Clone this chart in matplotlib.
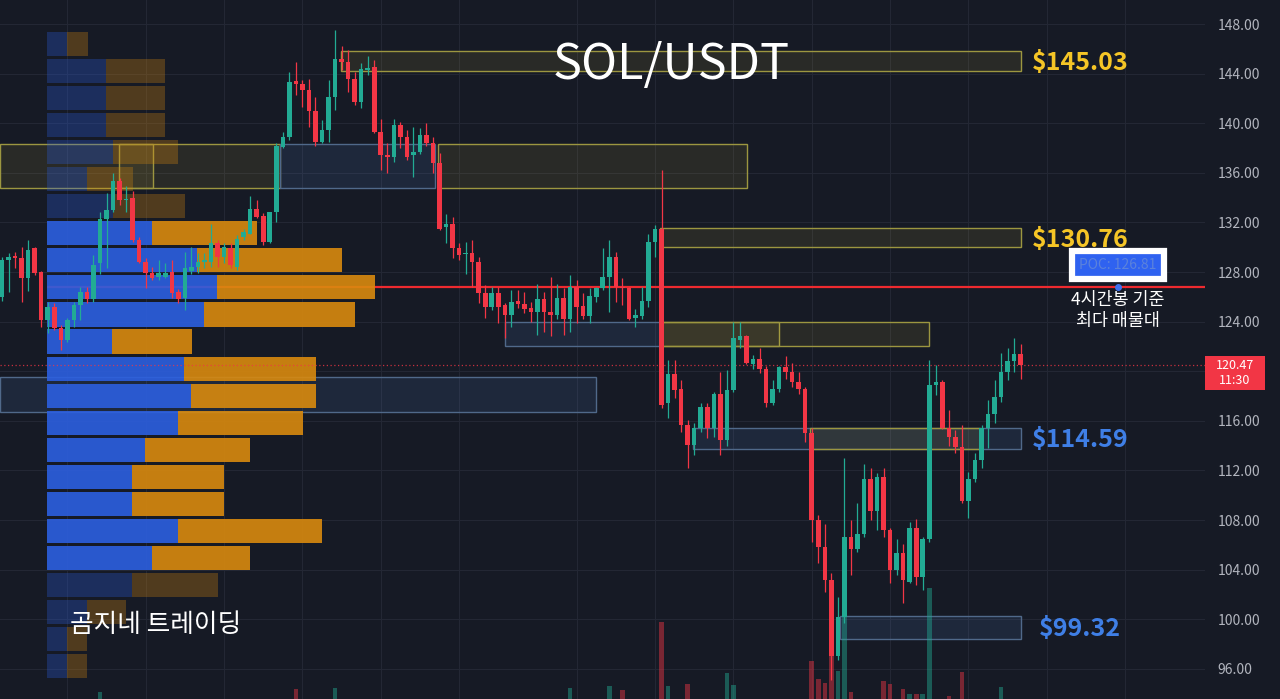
import matplotlib.pyplot as plt
import matplotlib.patches as patches
from matplotlib.transforms import blended_transform_factory
import numpy as np

plt.rcParams['font.family'] = ['Noto Sans CJK KR', 'DejaVu Sans']

BG = '#161a25'
UP = '#22ab94'
DOWN = '#f23645'
GRID = '#232734'

# 4h candles, SOL/USDT
opens = [126.0, 129.0, 129.3, 129.1, 127.5, 129.9, 128.0, 124.1, 125.2, 123.5,
         122.5, 124.1, 125.3, 126.4, 125.8, 128.7, 132.3, 133.0, 135.3, 133.8,
         134.0, 130.6, 128.8, 127.9, 127.6, 127.6, 128.0, 126.4, 125.9, 128.1,
         128.4, 128.8, 128.8, 130.3, 129.2, 129.9, 128.4, 130.85, 131.1, 133.05,
         132.5, 130.45, 132.8, 138.1, 138.9, 143.4, 143.2, 142.7, 141.0, 138.5,
         139.45, 142.1, 145.2, 144.95, 143.6, 141.7, 144.3, 144.55, 139.3, 137.4,
         137.3, 139.85, 138.9, 137.4, 137.7, 139.05, 138.4, 136.8, 131.6, 131.9,
         129.9, 129.45, 129.5, 128.8, 126.3, 125.2, 126.3, 125.3, 124.5, 125.7,
         125.4, 125.1, 124.8, 125.8, 124.8, 124.5, 125.9, 124.2, 126.8, 125.25,
         124.45, 126.0, 126.7, 127.6, 129.2, 126.8, 126.7, 124.3, 124.45, 125.7,
         130.45, 131.45, 117.4, 119.8, 118.6, 115.65, 114.05, 115.4, 117.15, 115.4,
         118.2, 114.45, 118.5, 122.5, 122.8, 120.6, 121.0, 120.2, 117.45, 118.6,
         120.3, 119.95, 119.15, 118.55, 115.0, 108.0, 105.85, 103.2, 97.0, 100.2,
         106.65, 105.7, 106.9, 111.3, 108.7, 111.5, 107.2, 103.95, 105.35, 103.0,
         107.35, 103.4, 106.5, 118.9, 119.1, 115.4, 114.7, 113.85, 109.5, 111.3,
         112.8, 115.4, 116.55, 117.95, 119.9, 120.8, 121.4]
highs = [129.2, 129.5, 129.6, 130.0, 130.6, 130.0, 128.1, 125.6, 125.5, 123.7,
         124.3, 125.6, 126.8, 126.8, 129.4, 132.8, 134.4, 136.0, 135.6, 134.9,
         134.5, 130.8, 129.1, 128.4, 129.0, 128.7, 129.0, 126.6, 129.6, 130.0,
         129.5, 129.5, 131.9, 130.6, 130.3, 130.3, 131.0, 131.5, 134.1, 133.8,
         132.75, 132.8, 138.4, 139.3, 144.15, 144.95, 143.5, 143.6, 142.1, 140.25,
         143.5, 147.5, 146.2, 145.9, 144.15, 144.85, 145.4, 145.1, 140.3, 138.4,
         140.3, 140.1, 139.45, 139.7, 139.6, 140.0, 138.9, 137.6, 132.7, 132.45,
         130.3, 130.45, 130.6, 129.2, 126.95, 126.8, 126.8, 125.5, 126.55, 126.55,
         126.4, 125.6, 127.05, 126.4, 127.6, 127.05, 126.7, 127.75, 127.35, 126.3,
         126.7, 126.8, 129.9, 130.6, 129.65, 127.5, 126.8, 125.05, 126.8, 131.1,
         131.8, 136.2, 120.9, 120.9, 119.3, 116.05, 115.8, 117.4, 117.4, 118.35,
         119.95, 120.1, 124.0, 124.0, 122.9, 121.3, 121.85, 120.4, 119.3, 120.4,
         121.2, 120.65, 119.95, 118.75, 115.4, 108.4, 107.7, 103.7, 101.8, 113.0,
         108.0, 109.35, 112.55, 112.2, 111.8, 112.2, 107.35, 106.45, 106.1, 107.8,
         108.1, 106.65, 120.9, 120.5, 119.3, 116.9, 115.25, 115.65, 111.9, 113.4,
         115.65, 117.7, 119.3, 121.45, 121.85, 122.65, 122.2]
lows = [125.7, 126.4, 128.3, 125.6, 126.5, 127.75, 123.6, 123.1, 123.3, 121.7,
        122.35, 123.55, 124.1, 125.5, 125.6, 127.8, 128.3, 132.8, 133.4, 132.8,
        130.4, 128.7, 126.7, 127.35, 127.35, 127.5, 125.9, 125.5, 124.9, 127.8,
        127.9, 128.3, 128.4, 128.4, 128.7, 128.3, 128.2, 130.6, 131.1, 132.35,
        130.2, 130.3, 132.0, 138.0, 138.65, 142.3, 141.3, 139.7, 138.2, 138.4,
        138.5, 141.1, 144.3, 142.5, 141.5, 141.2, 143.9, 139.2, 136.2, 136.0,
        136.9, 138.0, 137.0, 135.7, 137.55, 138.2, 136.0, 131.4, 130.3, 129.1,
        129.0, 127.8, 126.8, 125.5, 124.3, 124.9, 123.85, 122.7, 123.6, 125.1,
        124.7, 124.0, 122.9, 123.2, 122.8, 124.25, 122.9, 123.2, 123.85, 124.25,
        123.85, 125.6, 126.55, 124.8, 125.6, 125.35, 124.1, 123.6, 124.25, 125.2,
        129.2, 117.0, 116.2, 117.8, 115.1, 112.2, 113.25, 115.1, 114.6, 114.7,
        113.25, 113.95, 118.35, 121.85, 120.6, 120.2, 119.85, 117.1, 117.3, 118.35,
        119.4, 118.75, 118.2, 114.3, 106.25, 104.5, 102.2, 95.1, 96.7, 99.7,
        103.55, 105.45, 106.65, 108.0, 107.2, 106.65, 102.9, 103.55, 101.3, 102.9,
        102.75, 102.35, 106.25, 118.1, 115.3, 114.0, 113.4, 109.35, 108.15, 111.1,
        112.2, 113.8, 115.8, 117.5, 119.3, 119.95, 119.4]
closes = [129.0, 129.2, 129.1, 127.5, 129.8, 127.9, 124.1, 125.2, 123.5, 122.5,
          124.1, 125.3, 126.4, 125.8, 128.6, 132.3, 133.0, 135.3, 133.8, 133.9,
          130.6, 128.8, 127.9, 127.5, 127.9, 127.9, 126.3, 125.8, 128.3, 128.4,
          128.8, 129.0, 130.3, 129.2, 130.0, 128.6, 130.7, 131.25, 133.05, 132.45,
          130.45, 132.8, 138.2, 138.9, 143.35, 143.2, 142.7, 141.0, 138.5, 139.45,
          142.1, 145.2, 144.95, 143.6, 141.7, 144.4, 144.45, 139.3, 137.4, 137.3,
          139.85, 138.9, 137.3, 137.7, 139.05, 138.4, 136.8, 131.5, 131.9, 129.9,
          129.4, 129.55, 128.8, 126.3, 125.2, 126.3, 125.2, 124.5, 125.6, 125.4,
          125.0, 124.8, 125.8, 124.8, 124.5, 125.9, 124.2, 126.8, 125.2, 124.45,
          126.05, 126.7, 127.6, 129.2, 126.8, 126.7, 124.25, 124.5, 125.7, 130.45,
          131.5, 117.3, 119.8, 118.5, 115.65, 114.05, 115.4, 117.15, 115.4, 118.2,
          114.45, 118.5, 122.65, 122.8, 120.7, 121.0, 120.2, 117.45, 118.6, 120.3,
          119.9, 119.15, 118.55, 115.0, 108.0, 105.85, 103.2, 97.0, 100.2, 106.65,
          105.7, 106.9, 111.3, 108.7, 111.5, 107.2, 103.95, 105.35, 103.15, 107.35,
          103.4, 106.5, 118.9, 119.1, 115.4, 114.7, 113.85, 109.5, 111.3, 112.8,
          115.4, 116.55, 117.95, 119.9, 120.8, 121.4, 120.47]

# volume (only the bars that poke up from the bottom edge)
vol_idx = [15, 45, 51, 87, 93, 95, 101, 102, 105, 111, 112, 124, 125, 126, 127,
           128, 129, 130, 135, 136, 138, 139, 140, 141, 142, 145, 147, 153]
vol_val = [7, 10, 11, 11, 13, 9, 77, 13, 15, 26, 14, 38, 20, 16, 44,
           28, 82, 7, 18, 15, 10, 5, 5, 5, 111, 3, 27, 12]

# volume profile rows, top to bottom
vp_up = [20, 59, 59, 59, 66, 40, 66, 105, 150, 170, 157, 65,
         137, 144, 131, 98, 85, 85, 131, 105, 85, 40, 20, 20]
vp_down = [21, 59, 59, 59, 65, 46, 72, 105, 145, 158, 151, 80,
           132, 125, 125, 105, 92, 92, 144, 98, 86, 39, 20, 20]
va_rows = range(7, 20)
poc_price = 126.81

# zones: start bar, end bar, low, high, kind
zones = [
    (51.9, 156.05, 144.23, 145.83, 'y'),
    (-0.3, 42.6, 134.8, 138.3, 'y'),
    (17.9, 23.1, 134.8, 138.3, 'y'),
    (42.6, 66.3, 134.8, 138.3, 'b'),
    (66.8, 114.1, 134.8, 138.3, 'y'),
    (100.8, 156.05, 129.98, 131.54, 'y'),
    (77.0, 100.8, 122.0, 124.0, 'b'),
    (100.8, 119.0, 122.0, 124.0, 'y'),
    (100.8, 142.0, 122.0, 124.0, 'y'),
    (-0.3, 91.0, 116.7, 119.5, 'b'),
    (105.8, 156.05, 113.74, 115.44, 'b'),
    (123.7, 149.8, 113.74, 115.44, 'y'),
    (128.3, 156.05, 98.39, 100.25, 'b'),
]
levels = [('$145.03', 145.03, 'y'), ('$130.76', 130.76, 'y'),
          ('$114.59', 114.59, 'b'), ('$99.32', 99.32, 'b')]

grid_bars = [10, 22, 34, 46, 58, 70, 88, 100, 112, 124, 136, 148, 160, 172]
price_ticks = np.arange(96, 149, 4)

# layout (pixels of the 1280x699 canvas)
PX_BAR = 6.53
X0 = -0.31
XMAX = X0 + 1205 / PX_BAR
PX_PRICE = 12.4
YTOP = 148 + 24 / PX_PRICE
YBOT = 148 - 675 / PX_PRICE

fig = plt.figure(figsize=(12.8, 6.99), dpi=100, facecolor=BG)
ax = fig.add_axes([0, 0, 1205 / 1280, 1])
ax.set_facecolor(BG)
ax.set_xlim(X0, XMAX)
ax.set_ylim(YBOT, YTOP)
for s in ax.spines.values():
    s.set_visible(False)

last = closes[-1]

ax.set_xticks(grid_bars)
ax.set_xticklabels([])
ax.set_yticks(price_ticks)
# the label next to the last price tag is hidden by the tag
ax.set_yticklabels(['' if abs(v - last) < 1.5 else f'{v:.2f}' for v in price_ticks])
ax.yaxis.tick_right()
ax.tick_params(axis='both', length=0)
ax.tick_params(axis='y', pad=9, labelcolor='#b2b5be', labelsize=10)
ax.grid(True, color=GRID, linewidth=0.8, zorder=0)
ax.set_axisbelow(True)

# POC line (under the profile)
vp_left = X0 + 47 / PX_BAR
ax.hlines(poc_price, vp_left, XMAX, color='#ee2a2f', linewidth=1.6, zorder=1)

# zones
for x1, x2, y1, y2, kind in zones:
    if kind == 'y':
        fc, ec, fa = '#f0d040', '#9c9640', 0.09
    else:
        fc, ec, fa = '#5b8bd0', '#50698a', 0.13
    ax.add_patch(patches.Rectangle((x1, y1), x2 - x1, y2 - y1, facecolor=fc,
                                   alpha=fa, linewidth=0, zorder=2))
    ax.add_patch(patches.Rectangle((x1, y1), x2 - x1, y2 - y1, facecolor='none',
                                   edgecolor=ec, linewidth=1, zorder=2))

# volume profile
n_rows = len(vp_up)
lo, hi = min(lows), max(highs)
step = (hi - lo) / n_rows
for r in range(n_rows):
    yc = hi - (r + 0.5) * step
    full = r in va_rows
    a = 0.9 if full else 0.3
    wu = vp_up[r] / PX_BAR
    wd = vp_down[r] / PX_BAR
    ax.barh(yc, wu, left=vp_left, height=step * 0.89, color='#2c5fe0',
            alpha=a, zorder=3, linewidth=0)
    ax.barh(yc, wd, left=vp_left + wu, height=step * 0.89, color='#d98a0e',
            alpha=a, zorder=3, linewidth=0)

# volume bars
vcol = [UP if closes[i] >= opens[i] else DOWN for i in vol_idx]
ax.bar(vol_idx, [v / PX_PRICE for v in vol_val], bottom=YBOT, width=0.7,
       color=vcol, alpha=0.45, zorder=3, linewidth=0)

# last price dotted line
ax.axhline(last, color=DOWN, linestyle=(0, (1, 2)), linewidth=0.9, alpha=0.8, zorder=3)

# candles
x = np.arange(len(opens))
o = np.array(opens)
c = np.array(closes)
cols = [UP if cc >= oo else DOWN for oo, cc in zip(o, c)]
ax.vlines(x, lows, highs, color=cols, linewidth=0.9, zorder=4)
body = np.maximum(np.abs(c - o), 0.1)
ax.bar(x, body, bottom=np.minimum(o, c), width=0.7, color=cols, zorder=5, linewidth=0)

# level labels
lab_x = X0 + 1080 / PX_BAR
for txt, p, kind in levels:
    ax.text(lab_x, p - 0.15, txt, color='#f5c526' if kind == 'y' else '#3f7fe6',
            fontsize=18, fontweight='bold', ha='center', va='center', zorder=6)

# POC tag
poc_x = X0 + 1118 / PX_BAR
ax.plot(poc_x, poc_price, 'o', color='#3f72f0', markersize=4, zorder=6)
ax.text(poc_x, poc_price + 1.75, 'POC: 126.81', color='#5b82dc', fontsize=10,
        ha='center', va='center', zorder=7,
        bbox=dict(boxstyle='square,pad=0.5', facecolor='#2f62f0',
                  edgecolor='white', linewidth=4.5))
ax.text(poc_x, poc_price - 1.92, '4시간봉 기준\n최다 매물대', color='white',
        fontsize=12.5, fontweight='medium', ha='center', va='center',
        linespacing=1.2, zorder=7)

# last price tag on the axis
tr = blended_transform_factory(ax.transAxes, ax.transData)
ax.add_patch(patches.Rectangle((1.0, last - 1.99), 60 / 1205, 2.72, transform=tr,
                               facecolor=DOWN, linewidth=0, clip_on=False, zorder=7))
ax.text(1.0 + 30 / 1205, last - 0.62, f'{last:.2f}\n11:30', transform=tr,
        color='white', fontsize=9, ha='center', va='center', linespacing=1.15,
        zorder=8)

fig.text(671 / 1280, 1 - 65 / 699, 'SOL/USDT', color='white', fontsize=35,
         fontweight='medium', ha='center', va='center')
fig.text(156 / 1280, 1 - 625 / 699, '곰지네 트레이딩', color='white', fontsize=18.5,
         fontweight='medium', ha='center', va='center')

fig.savefig('out.png', dpi=100, facecolor=BG)
